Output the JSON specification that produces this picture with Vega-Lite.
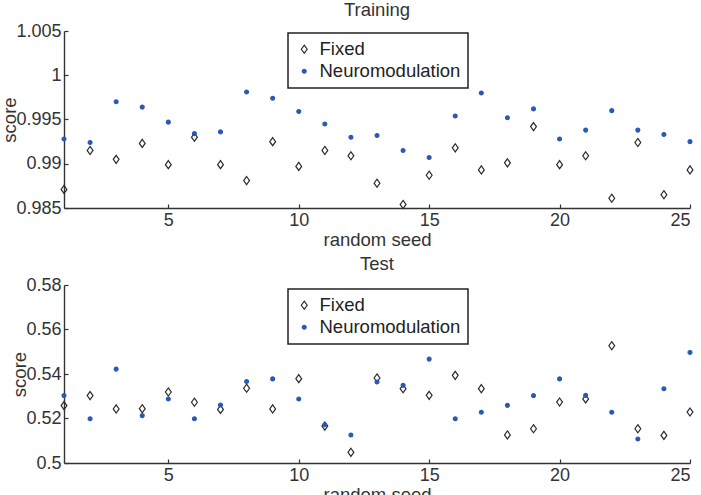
{
  "$schema": "https://vega.github.io/schema/vega-lite/v6.json",
  "background": "white",
  "padding": {"left": 0, "top": 0, "right": 8, "bottom": 0},
  "spacing": 5,
  "config": {
    "view": {"stroke": null},
    "font": "Liberation Sans",
    "axis": {
      "domainColor": "#333333",
      "domainWidth": 1.4,
      "tickColor": "#333333",
      "tickWidth": 1.2,
      "tickSize": -4,
      "labelPadding": 7,
      "labelFontSize": 18,
      "labelColor": "#333333",
      "titleFontSize": 18.5,
      "titleFontWeight": "normal",
      "titleColor": "#333333",
      "grid": false
    },
    "title": {"fontSize": 18.5, "fontWeight": "normal", "color": "#333333", "offset": 3},
    "legend": {
      "orient": "none",
      "strokeColor": "#222222",
      "strokeWidth": 1.5,
      "fillColor": "white",
      "padding": 7,
      "labelFontSize": 18.5,
      "labelColor": "#222222",
      "labelOffset": 6,
      "rowPadding": 3,
      "symbolStrokeWidth": 1.2
    }
  },
  "datasets": {
    "training": [
      {"seed": 1, "series": "Fixed", "score": 0.9871},
      {"seed": 2, "series": "Fixed", "score": 0.9915},
      {"seed": 3, "series": "Fixed", "score": 0.9905},
      {"seed": 4, "series": "Fixed", "score": 0.9923},
      {"seed": 5, "series": "Fixed", "score": 0.9899},
      {"seed": 6, "series": "Fixed", "score": 0.9930},
      {"seed": 7, "series": "Fixed", "score": 0.9899},
      {"seed": 8, "series": "Fixed", "score": 0.9881},
      {"seed": 9, "series": "Fixed", "score": 0.9925},
      {"seed": 10, "series": "Fixed", "score": 0.9897},
      {"seed": 11, "series": "Fixed", "score": 0.9915},
      {"seed": 12, "series": "Fixed", "score": 0.9909},
      {"seed": 13, "series": "Fixed", "score": 0.9878},
      {"seed": 14, "series": "Fixed", "score": 0.9854},
      {"seed": 15, "series": "Fixed", "score": 0.9887},
      {"seed": 16, "series": "Fixed", "score": 0.9918},
      {"seed": 17, "series": "Fixed", "score": 0.9893},
      {"seed": 18, "series": "Fixed", "score": 0.9901},
      {"seed": 19, "series": "Fixed", "score": 0.9942},
      {"seed": 20, "series": "Fixed", "score": 0.9899},
      {"seed": 21, "series": "Fixed", "score": 0.9909},
      {"seed": 22, "series": "Fixed", "score": 0.9861},
      {"seed": 23, "series": "Fixed", "score": 0.9924},
      {"seed": 24, "series": "Fixed", "score": 0.9865},
      {"seed": 25, "series": "Fixed", "score": 0.9893},
      {"seed": 1, "series": "Neuromodulation", "score": 0.9928},
      {"seed": 2, "series": "Neuromodulation", "score": 0.9924},
      {"seed": 3, "series": "Neuromodulation", "score": 0.9970},
      {"seed": 4, "series": "Neuromodulation", "score": 0.9964},
      {"seed": 5, "series": "Neuromodulation", "score": 0.9947},
      {"seed": 6, "series": "Neuromodulation", "score": 0.9934},
      {"seed": 7, "series": "Neuromodulation", "score": 0.9936},
      {"seed": 8, "series": "Neuromodulation", "score": 0.9981},
      {"seed": 9, "series": "Neuromodulation", "score": 0.9974},
      {"seed": 10, "series": "Neuromodulation", "score": 0.9959},
      {"seed": 11, "series": "Neuromodulation", "score": 0.9945},
      {"seed": 12, "series": "Neuromodulation", "score": 0.9930},
      {"seed": 13, "series": "Neuromodulation", "score": 0.9932},
      {"seed": 14, "series": "Neuromodulation", "score": 0.9915},
      {"seed": 15, "series": "Neuromodulation", "score": 0.9907},
      {"seed": 16, "series": "Neuromodulation", "score": 0.9954},
      {"seed": 17, "series": "Neuromodulation", "score": 0.9980},
      {"seed": 18, "series": "Neuromodulation", "score": 0.9952},
      {"seed": 19, "series": "Neuromodulation", "score": 0.9962},
      {"seed": 20, "series": "Neuromodulation", "score": 0.9928},
      {"seed": 21, "series": "Neuromodulation", "score": 0.9938},
      {"seed": 22, "series": "Neuromodulation", "score": 0.9960},
      {"seed": 23, "series": "Neuromodulation", "score": 0.9938},
      {"seed": 24, "series": "Neuromodulation", "score": 0.9933},
      {"seed": 25, "series": "Neuromodulation", "score": 0.9925}
    ],
    "test": [
      {"seed": 1, "series": "Fixed", "score": 0.5258},
      {"seed": 2, "series": "Fixed", "score": 0.5303},
      {"seed": 3, "series": "Fixed", "score": 0.5243},
      {"seed": 4, "series": "Fixed", "score": 0.5244},
      {"seed": 5, "series": "Fixed", "score": 0.5319},
      {"seed": 6, "series": "Fixed", "score": 0.5273},
      {"seed": 7, "series": "Fixed", "score": 0.5241},
      {"seed": 8, "series": "Fixed", "score": 0.5336},
      {"seed": 9, "series": "Fixed", "score": 0.5243},
      {"seed": 10, "series": "Fixed", "score": 0.5379},
      {"seed": 11, "series": "Fixed", "score": 0.5166},
      {"seed": 12, "series": "Fixed", "score": 0.5048},
      {"seed": 13, "series": "Fixed", "score": 0.5382},
      {"seed": 14, "series": "Fixed", "score": 0.5334},
      {"seed": 15, "series": "Fixed", "score": 0.5304},
      {"seed": 16, "series": "Fixed", "score": 0.5394},
      {"seed": 17, "series": "Fixed", "score": 0.5334},
      {"seed": 18, "series": "Fixed", "score": 0.5126},
      {"seed": 19, "series": "Fixed", "score": 0.5154},
      {"seed": 20, "series": "Fixed", "score": 0.5274},
      {"seed": 21, "series": "Fixed", "score": 0.5288},
      {"seed": 22, "series": "Fixed", "score": 0.5527},
      {"seed": 23, "series": "Fixed", "score": 0.5154},
      {"seed": 24, "series": "Fixed", "score": 0.5124},
      {"seed": 25, "series": "Fixed", "score": 0.5229},
      {"seed": 1, "series": "Neuromodulation", "score": 0.5303},
      {"seed": 2, "series": "Neuromodulation", "score": 0.5199},
      {"seed": 3, "series": "Neuromodulation", "score": 0.5422},
      {"seed": 4, "series": "Neuromodulation", "score": 0.5213},
      {"seed": 5, "series": "Neuromodulation", "score": 0.5288},
      {"seed": 6, "series": "Neuromodulation", "score": 0.5199},
      {"seed": 7, "series": "Neuromodulation", "score": 0.5261},
      {"seed": 8, "series": "Neuromodulation", "score": 0.5366},
      {"seed": 9, "series": "Neuromodulation", "score": 0.5378},
      {"seed": 10, "series": "Neuromodulation", "score": 0.5288},
      {"seed": 11, "series": "Neuromodulation", "score": 0.5172},
      {"seed": 12, "series": "Neuromodulation", "score": 0.5126},
      {"seed": 13, "series": "Neuromodulation", "score": 0.5364},
      {"seed": 14, "series": "Neuromodulation", "score": 0.5349},
      {"seed": 15, "series": "Neuromodulation", "score": 0.5467},
      {"seed": 16, "series": "Neuromodulation", "score": 0.5199},
      {"seed": 17, "series": "Neuromodulation", "score": 0.5228},
      {"seed": 18, "series": "Neuromodulation", "score": 0.5259},
      {"seed": 19, "series": "Neuromodulation", "score": 0.5303},
      {"seed": 20, "series": "Neuromodulation", "score": 0.5378},
      {"seed": 21, "series": "Neuromodulation", "score": 0.5304},
      {"seed": 22, "series": "Neuromodulation", "score": 0.5228},
      {"seed": 23, "series": "Neuromodulation", "score": 0.5108},
      {"seed": 24, "series": "Neuromodulation", "score": 0.5334},
      {"seed": 25, "series": "Neuromodulation", "score": 0.5497}
    ]
  },
  "vconcat": [
    {
      "title": "Training",
      "width": 626,
      "height": 177,
      "data": {"name": "training"},
      "mark": {"type": "point", "filled": false, "opacity": 1, "strokeWidth": 1.2},
      "encoding": {
        "x": {"field": "seed", "type": "quantitative", "title": "random seed",
              "scale": {"domain": [1, 25], "nice": false},
              "axis": {"values": [5, 10, 15, 20, 25], "titlePadding": 1}},
        "y": {"field": "score", "type": "quantitative", "title": "score",
              "scale": {"domain": [0.985, 1.005], "nice": false, "zero": false},
              "axis": {"values": [0.985, 0.99, 0.995, 1, 1.005], "format": ".3~f", "titlePadding": -4}},
        "shape": {"field": "series", "type": "nominal", "title": null,
                  "scale": {"domain": ["Fixed", "Neuromodulation"], "range": ["M0,-1.25L0.9,0L0,1.25L-0.9,0Z", "circle"]},
                  "legend": {"legendX": 224, "legendY": 2}},
        "stroke": {"field": "series", "type": "nominal", "title": null,
                   "scale": {"domain": ["Fixed", "Neuromodulation"], "range": ["#2b2b2b", "#2a58b4"]}},
        "fill": {"field": "series", "type": "nominal", "title": null,
                 "scale": {"domain": ["Fixed", "Neuromodulation"], "range": ["transparent", "#2a58b4"]}},
        "size": {"field": "series", "type": "nominal", "title": null,
                 "scale": {"domain": ["Fixed", "Neuromodulation"], "range": [42, 15]}}
      }
    },
    {
      "title": "Test",
      "width": 626,
      "height": 178,
      "data": {"name": "test"},
      "mark": {"type": "point", "filled": false, "opacity": 1, "strokeWidth": 1.2},
      "encoding": {
        "x": {"field": "seed", "type": "quantitative", "title": "random seed",
              "scale": {"domain": [1, 25], "nice": false},
              "axis": {"values": [5, 10, 15, 20, 25], "titlePadding": 1}},
        "y": {"field": "score", "type": "quantitative", "title": "score",
              "scale": {"domain": [0.5, 0.58], "nice": false, "zero": false},
              "axis": {"values": [0.5, 0.52, 0.54, 0.56, 0.58], "format": ".2~f", "titlePadding": -4}},
        "shape": {"field": "series", "type": "nominal", "title": null,
                  "scale": {"domain": ["Fixed", "Neuromodulation"], "range": ["M0,-1.25L0.9,0L0,1.25L-0.9,0Z", "circle"]},
                  "legend": {"legendX": 224, "legendY": 4}},
        "stroke": {"field": "series", "type": "nominal", "title": null,
                   "scale": {"domain": ["Fixed", "Neuromodulation"], "range": ["#2b2b2b", "#2a58b4"]}},
        "fill": {"field": "series", "type": "nominal", "title": null,
                 "scale": {"domain": ["Fixed", "Neuromodulation"], "range": ["transparent", "#2a58b4"]}},
        "size": {"field": "series", "type": "nominal", "title": null,
                 "scale": {"domain": ["Fixed", "Neuromodulation"], "range": [42, 15]}}
      }
    }
  ],
  "resolve": {"scale": {"shape": "independent", "stroke": "independent", "fill": "independent", "size": "independent"}, "legend": {"shape": "independent", "stroke": "independent", "fill": "independent", "size": "independent"}}
}
